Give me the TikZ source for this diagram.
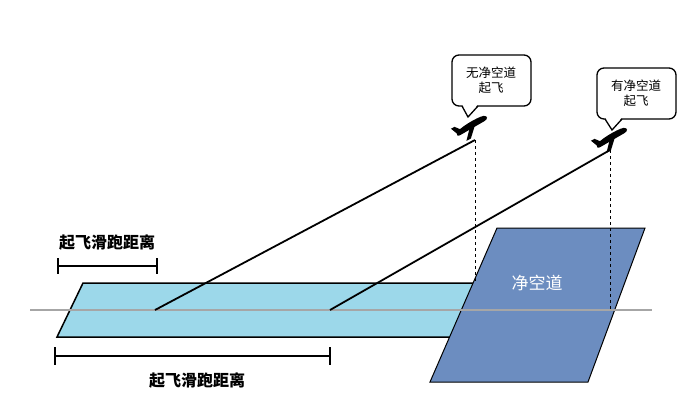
\documentclass[tikz,border=0pt]{standalone}
\usepackage{fontspec}
\newfontfamily\cjk{Noto Sans CJK SC}
\begin{document}
\begin{tikzpicture}[x=1pt,y=-1pt,
  lbl/.style={font=\cjk\fontsize{16}{18}\selectfont\bfseries},
  bub/.style={draw,line width=1.3pt,rounded corners=7pt,fill=white},
  btxt/.style={font=\cjk\fontsize{12.5}{15}\selectfont,align=center},
  plane/.style={fill=black},
  bar/.style={line width=2.6pt}]
\useasboundingbox (0,0) rectangle (693,415);
% runway
\draw[fill={rgb,255:red,156;green,216;blue,234},line width=1.5pt] (83,283) -- (495,283) -- (495,337) -- (57,337) -- cycle;
% clearway
\draw[fill={rgb,255:red,108;green,141;blue,192},line width=1pt] (497,228) -- (645,228) -- (588,382) -- (430,382) -- cycle;
\node[font=\cjk\fontsize{17}{19}\selectfont,text=white] (cw) at (537,283) {净空道};
% centerline
\coordinate (cl1) at (30,310); \coordinate (cl2) at (652,310);
\draw[gray!70,line width=1.6pt] (cl1) -- (cl2);
% climb lines
\coordinate (s1) at (155,310); \coordinate (e1) at (475,140);
\coordinate (s2) at (330,310); \coordinate (e2) at (610,150);
\coordinate (d1) at (475,283); \coordinate (d2) at (610,310);
\draw[line width=1.8pt] (s1) -- (e1);
\draw[line width=1.8pt] (s2) -- (e2);
\draw[dashed,line width=1pt] (e1) -- (d1);
\draw[dashed,line width=1pt] (e2) -- (d2);
% bars
\coordinate (a1) at (58,266); \coordinate (a2) at (157,266);
\draw[bar] (a1) -- (a2); \draw[bar] (58,258) -- (58,274); \draw[bar] (157,258) -- (157,274);
\node[lbl] (l1) at (107,242) {起飞滑跑距离};
\coordinate (b1) at (55,356); \coordinate (b2) at (330,356);
\draw[bar] (b1) -- (b2); \draw[bar] (55,347) -- (55,365); \draw[bar] (330,347) -- (330,365);
\node[lbl] (l2) at (197,380) {起飞滑跑距离};
% bubbles
\draw[bub] (452,55) rectangle (531,106);
\fill[white] (462,104) -- (468,117) -- (478,104) -- cycle;
\draw[line width=1.3pt] (462,106) -- (468,117) -- (478,106);
\node[btxt] (t1) at (491,80) {无净空道\\起飞};
\draw[bub] (597,68) rectangle (676,119);
\fill[white] (605,117) -- (612,130) -- (622,117) -- cycle;
\draw[line width=1.3pt] (605,119) -- (612,130) -- (622,119);
\node[btxt] (t2) at (636,93) {有净空道\\起飞};
% planes
\foreach \px/\py in {471/126, 611/138}{
  \begin{scope}[shift={(\px,\py)},rotate=28]
  \fill[plane] (-16,0) .. controls (-14,-4) and (10,-5) .. (16,-3) .. controls (20,-1) and (18,2) .. (14,2) -- (-14,3) .. controls (-17,3) and (-17,1) .. (-16,0) -- cycle;
  \fill[plane] (-2,1) -- (4,1) -- (-6,11) -- (-11,11) -- cycle;
  \fill[plane] (-16,0) -- (-19,-7) -- (-15,-7) -- (-10,-1) -- cycle;
  \end{scope}}
\end{tikzpicture}
\end{document}
